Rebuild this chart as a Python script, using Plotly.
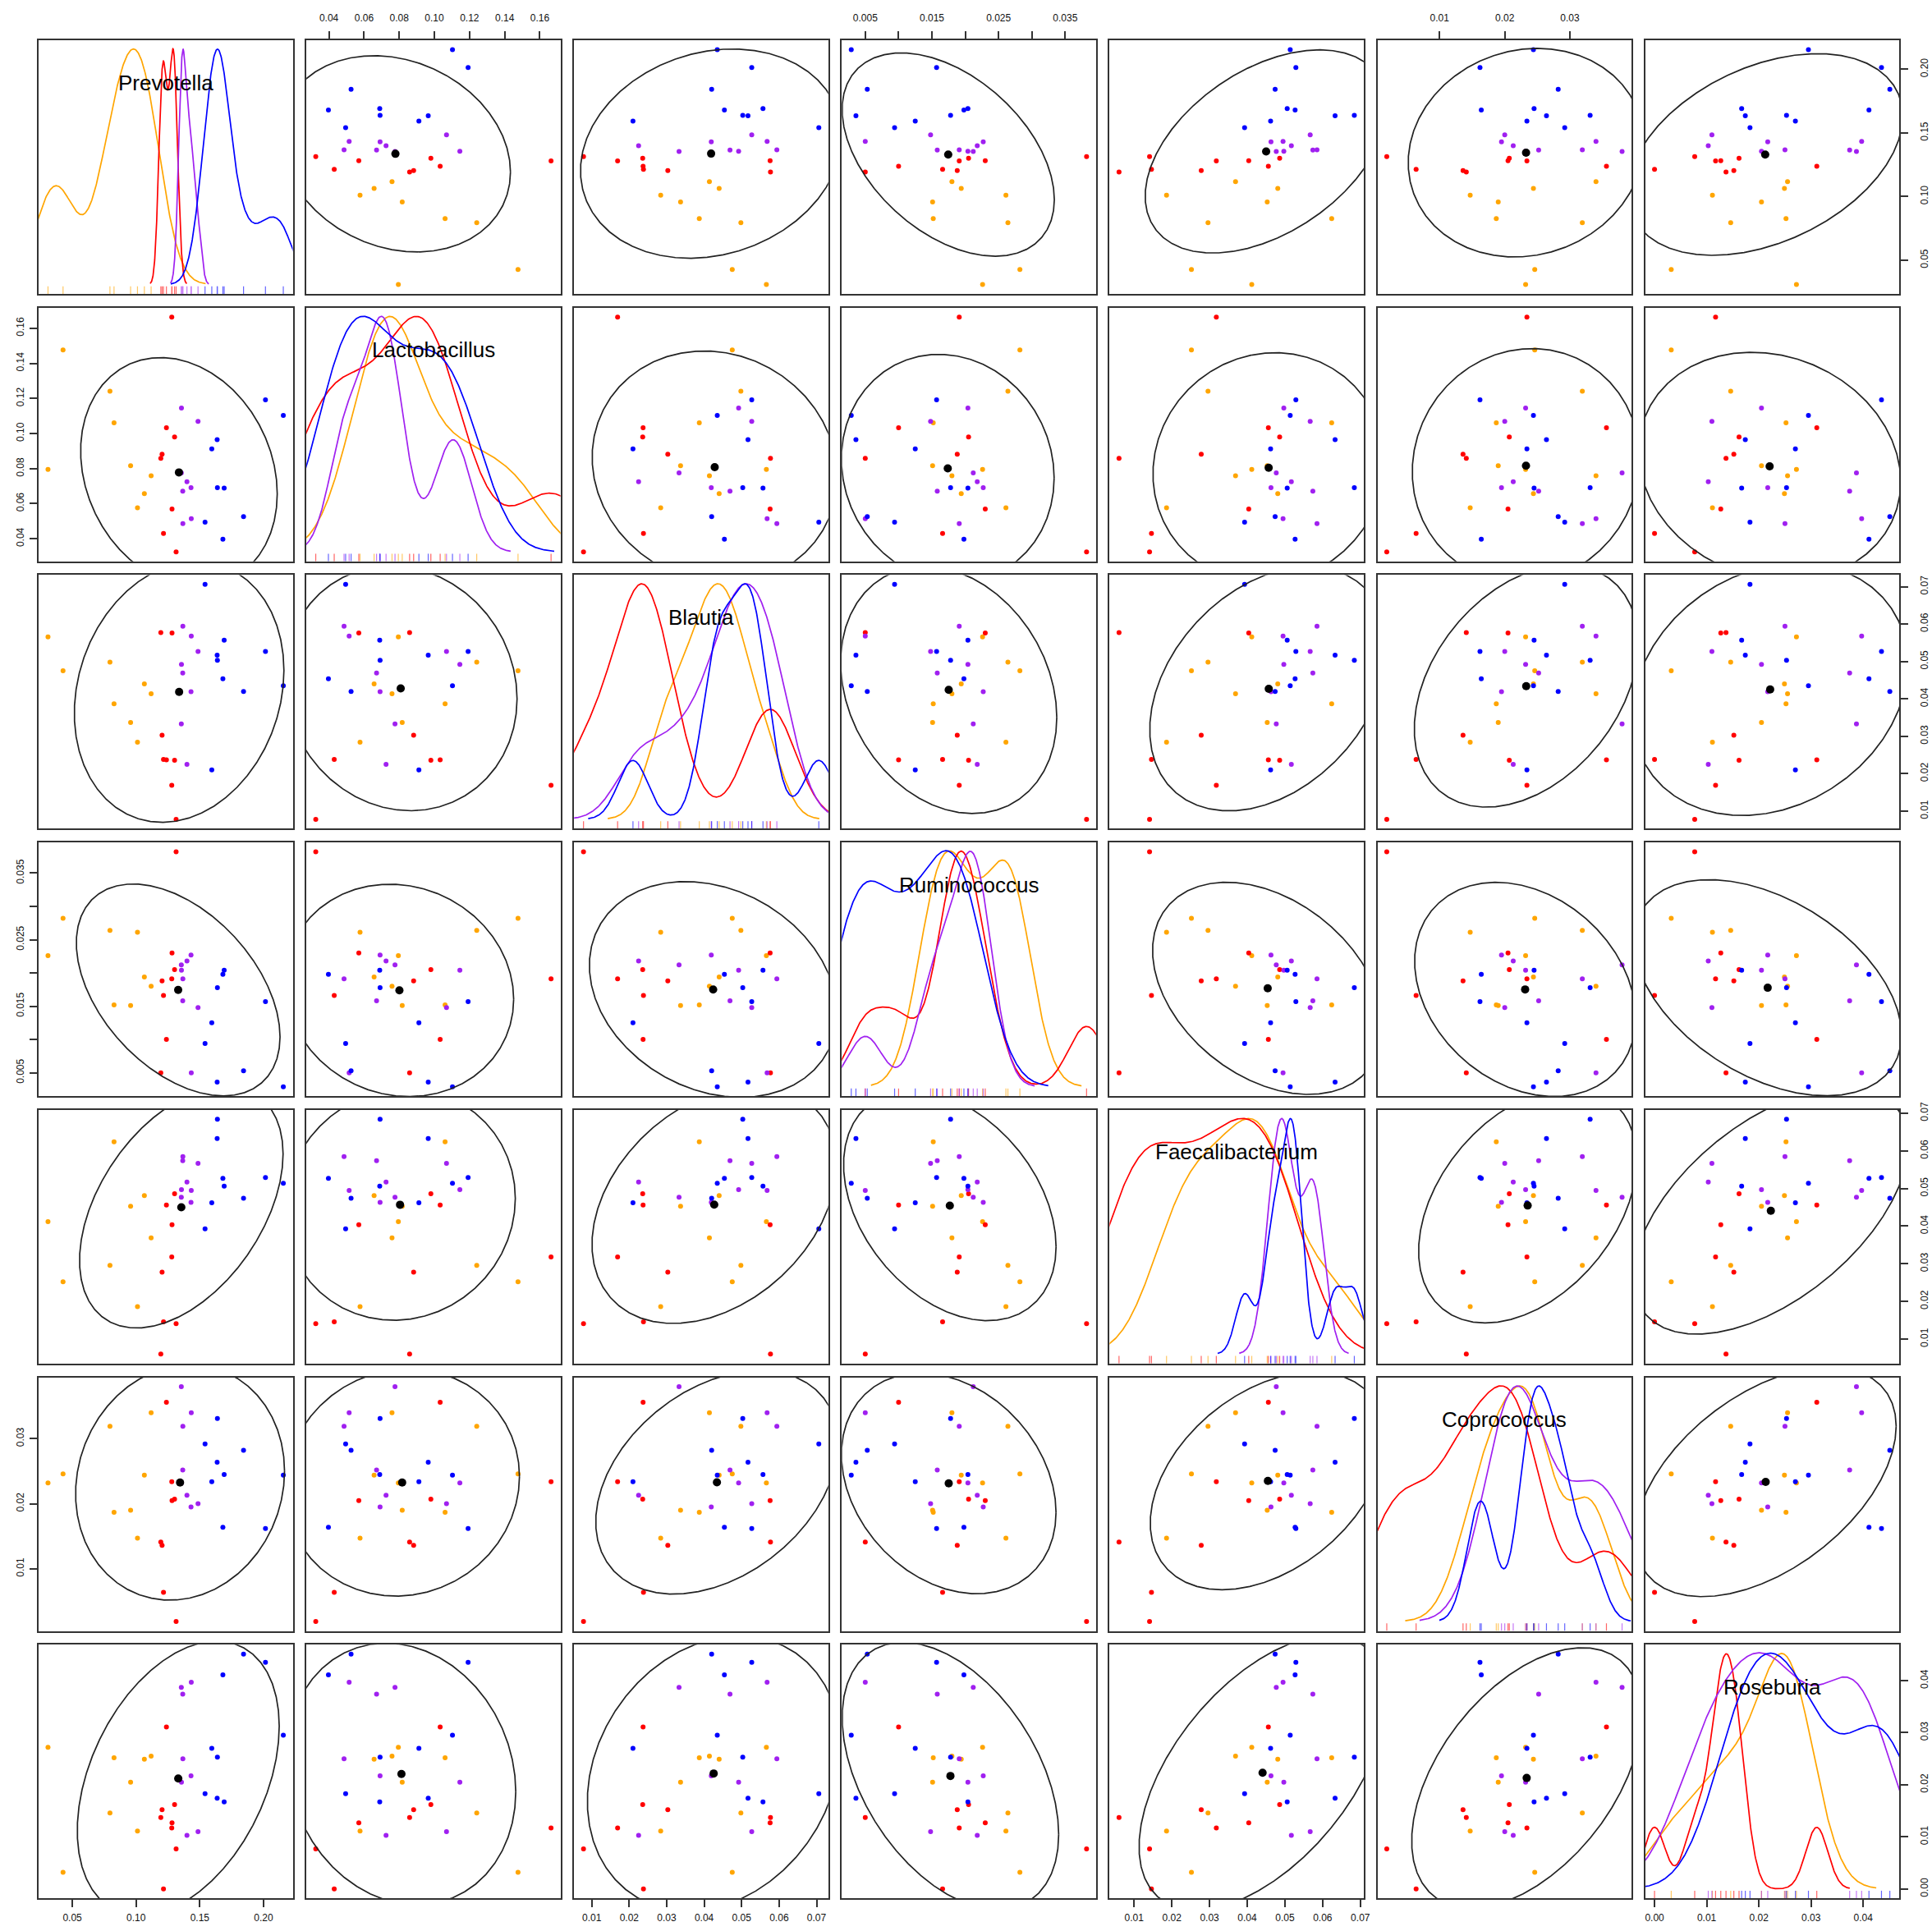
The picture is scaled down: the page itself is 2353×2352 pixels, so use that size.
import numpy as np
import plotly.graph_objects as go

# ---------------- data ----------------
variables = ["Prevotella", "Lactobacillus", "Blautia", "Ruminococcus",
             "Faecalibacterium", "Coprococcus", "Roseburia"]

group = ["D"] * 9 + ["C"] * 8 + ["B"] * 8 + ["A"] * 8
group_order = ["A", "B", "C", "D"]
group_colors = {"A": "#FFA500", "B": "#FF0000", "C": "#A020F0", "D": "#0000FF"}

prevotella = [0.2155, 0.2015, 0.1843, 0.1691, 0.1681, 0.1638, 0.1636, 0.1594, 0.1541,
              0.1486, 0.1433, 0.1431, 0.1399, 0.1367, 0.1366, 0.1356, 0.1355,
              0.1314, 0.1302, 0.1282, 0.1280, 0.1238, 0.1215, 0.1204, 0.1194,
              0.1118, 0.1065, 0.1011, 0.0957, 0.0827, 0.0795, 0.0427, 0.0309]
lactobacillus = [0.1103, 0.1192, 0.0526, 0.0689, 0.0397, 0.0691, 0.0965, 0.0912, 0.0495,
                 0.1069, 0.0515, 0.0691, 0.0725, 0.0486, 0.0671, 0.1145, 0.0776,
                 0.0325, 0.0980, 0.0570, 0.1664, 0.1033, 0.0430, 0.0882, 0.0859,
                 0.0759, 0.0657, 0.0577, 0.0817, 0.1061, 0.1241, 0.1476, 0.0795]
blautia = [0.0435, 0.0527, 0.0420, 0.0557, 0.0454, 0.0503, 0.0517, 0.0210, 0.0706,
           0.0527, 0.0568, 0.0419, 0.0225, 0.0594, 0.0469, 0.0492, 0.0333,
           0.0078, 0.0236, 0.0576, 0.0169, 0.0237, 0.0238, 0.0303, 0.0577,
           0.0414, 0.0440, 0.0284, 0.0337, 0.0387, 0.0498, 0.0475, 0.0566]
ruminococcus = [0.0029, 0.0157, 0.0053, 0.0204, 0.0198, 0.0178, 0.0036, 0.0125, 0.0094,
                0.0148, 0.0050, 0.0227, 0.0218, 0.0191, 0.0158, 0.0204, 0.0212,
                0.0382, 0.0205, 0.0230, 0.0191, 0.0100, 0.0166, 0.0188, 0.0050,
                0.0180, 0.0194, 0.0261, 0.0151, 0.0152, 0.0264, 0.0282, 0.0226]
faecalibacterium = [0.0514, 0.0529, 0.0474, 0.0506, 0.0527, 0.0684, 0.0633, 0.0462, 0.0393,
                    0.0567, 0.0495, 0.0463, 0.0517, 0.0585, 0.0574, 0.0497, 0.0477,
                    0.0141, 0.0486, 0.0404, 0.0318, 0.0456, 0.0146, 0.0278, 0.0060,
                    0.0369, 0.0481, 0.0186, 0.0453, 0.0624, 0.0296, 0.0252, 0.0412]
coprococcus = [0.0244, 0.0162, 0.0282, 0.0245, 0.0164, 0.0331, 0.0264, 0.0234, 0.0292,
               0.0200, 0.0340, 0.0195, 0.0213, 0.0319, 0.0252, 0.0232, 0.0380,
               0.0019, 0.0207, 0.0205, 0.0234, 0.0356, 0.0064, 0.0136, 0.0141,
               0.0340, 0.0244, 0.0147, 0.0190, 0.0187, 0.0319, 0.0246, 0.0232]
roseburia = [0.0295, 0.0435, 0.0451, 0.0167, 0.0411, 0.0253, 0.0174, 0.0270, 0.0183,
             0.0110, 0.0397, 0.0217, 0.0103, 0.0250, 0.0374, 0.0205, 0.0387,
             0.0077, 0.0162, 0.0127, 0.0117, 0.0311, 0.0000, 0.0152, 0.0137,
             0.0255, 0.0249, 0.0111, 0.0205, 0.0252, 0.0146, 0.0032, 0.0272]

tick_values = [
    [0.05, 0.10, 0.15, 0.20],
    [0.04, 0.06, 0.08, 0.10, 0.12, 0.14, 0.16],
    [0.01, 0.02, 0.03, 0.04, 0.05, 0.06, 0.07],
    [0.005, 0.010, 0.015, 0.020, 0.025, 0.030, 0.035],
    [0.01, 0.02, 0.03, 0.04, 0.05, 0.06, 0.07],
    [0.01, 0.02, 0.03],
    [0.00, 0.01, 0.02, 0.03, 0.04],
]
tick_labels = [
    ["0.05", "0.10", "0.15", "0.20"],
    ["0.04", "0.06", "0.08", "0.10", "0.12", "0.14", "0.16"],
    ["0.01", "0.02", "0.03", "0.04", "0.05", "0.06", "0.07"],
    ["0.005", "", "0.015", "", "0.025", "", "0.035"],
    ["0.01", "0.02", "0.03", "0.04", "0.05", "0.06", "0.07"],
    ["0.01", "0.02", "0.03"],
    ["0.00", "0.01", "0.02", "0.03", "0.04"],
]

# ---------------- helpers ----------------
data = np.column_stack([prevotella, lactobacillus, blautia, ruminococcus,
                        faecalibacterium, coprococcus, roseburia])
groups = np.array(group)
n_obs, n_var = data.shape


def padded_range(v):
    lo, hi = float(np.min(v)), float(np.max(v))
    d = hi - lo
    return [lo - 0.04 * d, hi + 0.04 * d]


def bw_nrd0(x):
    hi = np.std(x, ddof=1)
    q75, q25 = np.percentile(x, [75, 25])
    lo = min(hi, (q75 - q25) / 1.34)
    if lo == 0:
        lo = hi or abs(x[0]) or 1.0
    return 0.9 * lo * len(x) ** -0.2


def kde(x):
    bw = bw_nrd0(x)
    grid = np.linspace(x.min() - 3 * bw, x.max() + 3 * bw, 512)
    d = np.exp(-0.5 * ((grid[:, None] - x[None, :]) / bw) ** 2).sum(1) / (len(x) * bw * np.sqrt(2 * np.pi))
    return grid, d


def cov_trob(X, nu=5, maxit=25, tol=0.01):
    n, p = X.shape
    wt = np.ones(n)
    loc = X.mean(axis=0)
    w = np.sqrt(wt)
    Xc = X - loc
    for _ in range(maxit):
        w0 = w
        Xc = X - loc
        A = np.sqrt(w / w.sum())[:, None] * Xc
        _, d, Vt = np.linalg.svd(A, full_matrices=False)
        wX = Xc @ Vt.T @ np.diag(1.0 / d)
        Q = (wX ** 2).sum(axis=1)
        w = wt * (nu + p) / (nu + Q)
        loc = (w[:, None] * X).sum(axis=0) / w.sum()
        if np.all(np.abs(w - w0) < tol):
            break
    S = np.sqrt(w)[:, None] * Xc
    cov = S.T @ S / wt.sum()
    return loc, cov


# F quantile with df1 = 2 has a closed form
dfd = n_obs - 1
qf95 = (dfd / 2.0) * (0.05 ** (-2.0 / dfd) - 1.0)
radius = np.sqrt(2 * qf95)
angles = np.arange(52) * 2 * np.pi / 51
unit_circle = np.column_stack([np.cos(angles), np.sin(angles)])

# ---------------- geometry ----------------
W, H = 2353, 2352
col_left = [47 + 326.1 * j for j in range(7)]
row_top = [49 + 325.7 * i for i in range(7)]
pw, ph = 309.5, 309.0

ranges = [padded_range(data[:, k]) for k in range(n_var)]

fig = go.Figure()
layout = {}
tick_font = dict(family="Liberation Sans, Arial, sans-serif", size=12, color="#111111")
tick_common = dict(ticks="outside", ticklen=9, tickwidth=1.5, tickcolor="#333333",
                   showticklabels=True, tickfont=tick_font)
annotations = []

for i in range(7):
    for j in range(7):
        n = i * 7 + j + 1
        xa = "xaxis" if n == 1 else f"xaxis{n}"
        ya = "yaxis" if n == 1 else f"yaxis{n}"
        xr = "x" if n == 1 else f"x{n}"
        yr = "y" if n == 1 else f"y{n}"
        x0 = col_left[j] / W
        x1 = (col_left[j] + pw) / W
        y1 = 1 - row_top[i] / H
        y0 = 1 - (row_top[i] + ph) / H

        xdict = dict(domain=[x0, x1], anchor=yr, range=ranges[j], showline=True, mirror=True,
                     linecolor="#333333", linewidth=2, showgrid=False, zeroline=False,
                     showticklabels=False, ticks="", fixedrange=True, automargin=False)
        ydict = dict(domain=[y0, y1], anchor=xr, range=ranges[i], showline=True, mirror=True,
                     linecolor="#333333", linewidth=2, showgrid=False, zeroline=False,
                     showticklabels=False, ticks="", fixedrange=True, automargin=False)
        if i == 0 and j % 2 == 1:
            xdict.update(side="top", tickvals=tick_values[j], ticktext=tick_labels[j],
                         ticklabelstandoff=7, **tick_common)
        if i == 6 and j % 2 == 0:
            xdict.update(side="bottom", tickvals=tick_values[j], ticktext=tick_labels[j],
                         ticklabelstandoff=2, **tick_common)
        if j == 0 and i % 2 == 1:
            ydict.update(side="left", tickvals=tick_values[i], ticktext=tick_labels[i],
                         tickangle=-90, ticklabelstandoff=2, **tick_common)
        if j == 6 and i % 2 == 0:
            ydict.update(side="right", tickvals=tick_values[i], ticktext=tick_labels[i],
                         tickangle=-90, ticklabelstandoff=9, **tick_common)
        layout[xa] = xdict
        layout[ya] = ydict

        if i == j:
            v = data[:, j]
            vmin, vmax = v.min(), v.max()
            ylo, yhi = ranges[j]
            for g in group_order:
                xx = v[groups == g]
                grid, d = kde(xx)
                yy = vmin + d * (vmax - vmin) / (d.max() - d.min())
                fig.add_trace(go.Scatter(x=grid, y=yy, mode="lines",
                                         line=dict(color=group_colors[g], width=1.7),
                                         xaxis=xr, yaxis=yr, showlegend=False, hoverinfo="skip"))
            for g in group_order:
                xx = v[groups == g]
                rx, ry = [], []
                for val in xx:
                    rx += [val, val, None]
                    ry += [ylo, ylo + 0.03 * (yhi - ylo), None]
                fig.add_trace(go.Scatter(x=rx, y=ry, mode="lines",
                                         line=dict(color=group_colors[g], width=1.2),
                                         opacity=0.6, xaxis=xr, yaxis=yr,
                                         showlegend=False, hoverinfo="skip"))
            annotations.append(dict(text=variables[j], xref=f"{xr} domain", yref=f"{yr} domain",
                                    x=0.5, y=0.833, showarrow=False, xanchor="center", yanchor="middle",
                                    font=dict(family="Liberation Sans, Arial, sans-serif", size=26,
                                              color="black")))
        else:
            xv = data[:, j]
            yv = data[:, i]
            for g in group_order:
                m = groups == g
                fig.add_trace(go.Scatter(x=xv[m], y=yv[m], mode="markers",
                                         marker=dict(color=group_colors[g], size=6),
                                         xaxis=xr, yaxis=yr, showlegend=False))
            center, cov = cov_trob(np.column_stack([xv, yv]))
            L = np.linalg.cholesky(cov)
            ell = center + radius * unit_circle @ L.T
            fig.add_trace(go.Scatter(x=ell[:, 0], y=ell[:, 1], mode="lines",
                                     line=dict(color="#222222", width=1.7),
                                     xaxis=xr, yaxis=yr, showlegend=False, hoverinfo="skip"))
            fig.add_trace(go.Scatter(x=[center[0]], y=[center[1]], mode="markers",
                                     marker=dict(color="black", size=10),
                                     xaxis=xr, yaxis=yr, showlegend=False))

fig.update_layout(template="none")
fig.update_layout(**layout)
fig.update_layout(width=W, height=H, margin=dict(l=0, r=0, t=0, b=0, pad=0),
                  plot_bgcolor="white", paper_bgcolor="white", showlegend=False,
                  annotations=annotations)

post = ("var d=document.getElementById('{plot_id}');"
        "d.style.position='absolute';d.style.left='0px';d.style.top='0px';"
        "document.body.style.margin='0px';document.body.style.overflow='hidden';")
fig.write_html("out.html", config={"displayModeBar": False}, post_script=post)
